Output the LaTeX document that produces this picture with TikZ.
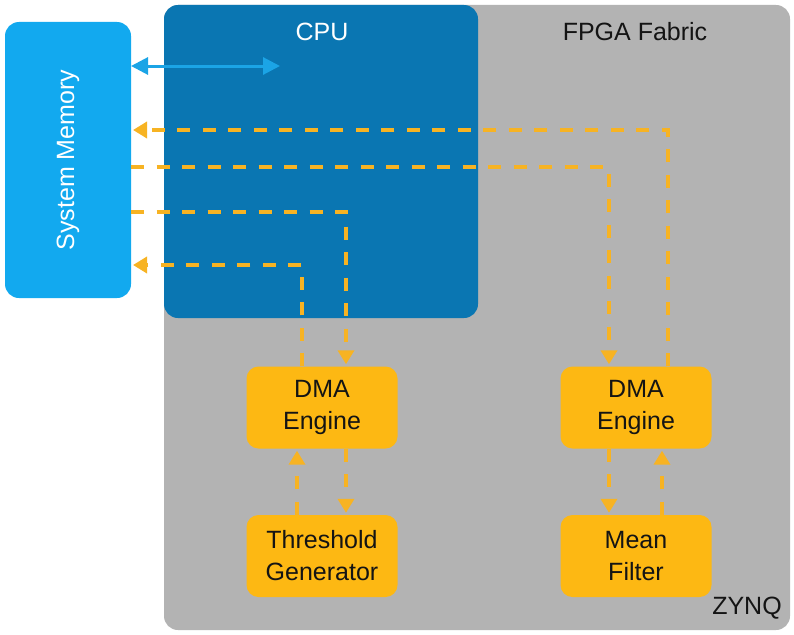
\documentclass[tikz,border=0pt]{standalone}
\usepackage{fontspec}
\setmainfont{Liberation Sans}
\usetikzlibrary{arrows.meta,calc}
\definecolor{memblue}{HTML}{12A9EF}
\definecolor{cpublue}{HTML}{0A76B2}
\definecolor{fabricgray}{HTML}{B3B3B3}
\definecolor{boxorange}{HTML}{FDB813}
\definecolor{lineorange}{HTML}{F7B323}
\definecolor{arrowblue}{HTML}{1BA4E6}
\definecolor{textdark}{HTML}{141414}
\tikzset{
  region/.style={rounded corners=14pt, inner sep=0pt, outer sep=0pt},
  block/.style={rounded corners=12pt, fill=boxorange, minimum width=151pt, minimum height=82pt,
    inner sep=0pt, align=center, font=\fontsize{25}{32}\selectfont, text=textdark},
  title/.style={font=\fontsize{25}{30}\selectfont, inner sep=0pt},
  dashline/.style={draw=lineorange, line width=4pt, dash pattern=on 13pt off 12.5pt},
  otip/.style={-{Triangle[width=16pt,length=14pt]}, shorten >=2pt},
  busarrow/.style={draw=arrowblue, line width=3pt,
    {Triangle[width=17pt,length=17pt]}-{Triangle[width=17pt,length=17pt]}}
}
\begin{document}
\begin{tikzpicture}[x=1pt,y=-1pt]
\useasboundingbox (0,0) rectangle (794,634);
% regions
\node[region, fill=fabricgray, minimum width=626pt, minimum height=625pt] (fabric) at (477,317.5) {};
\node[region, fill=cpublue, minimum width=314pt, minimum height=313pt] (cpu) at (321,161.5) {};
\node[region, fill=memblue, minimum width=126pt, minimum height=276pt] (mem) at (68,160) {};
% titles
\node[title, text=white] (cputxt) at (322,32) {CPU};
\node[title, text=textdark] (fabtxt) at (635,32) {FPGA Fabric};
\node[title, text=textdark] (zynq) at (747,608) {ZYNQ};
\node[title, text=white, rotate=90] (memtxt) at (mem.center) {System Memory};
% blocks
\node[block] (dma1) at (322,407.5) {DMA\\Engine};
\node[block] (thr) at (322,556) {Threshold\\Generator};
\node[block] (dma2) at (636,407.5) {DMA\\Engine};
\node[block] (mean) at (636,556) {Mean\\Filter};
% bus
\coordinate (cpuport) at (280,66);
\draw[busarrow] (mem.east |- cpuport) -- (cpuport);
% dashed data paths
\draw[dashline, otip] ($(dma2.north)+(32,0)$) |- (mem.east |- 0,130);
\draw[dashline, otip] (mem.east |- 0,167) -| ($(dma2.north)+(-27,0)$);
\draw[dashline, otip] (mem.east |- 0,212) -| ($(dma1.north)+(24,0)$);
\draw[dashline, otip] ($(dma1.north)+(-20,0)$) |- (mem.east |- 0,265);
\draw[dashline, otip] ($(thr.north)+(-25,0)$) -- ($(dma1.south)+(-25,0)$);
\draw[dashline, otip] ($(dma1.south)+(24,0)$) -- ($(thr.north)+(24,0)$);
\draw[dashline, otip] ($(dma2.south)+(-27,0)$) -- ($(mean.north)+(-27,0)$);
\draw[dashline, otip] ($(mean.north)+(26,0)$) -- ($(dma2.south)+(26,0)$);
\end{tikzpicture}
\end{document}
